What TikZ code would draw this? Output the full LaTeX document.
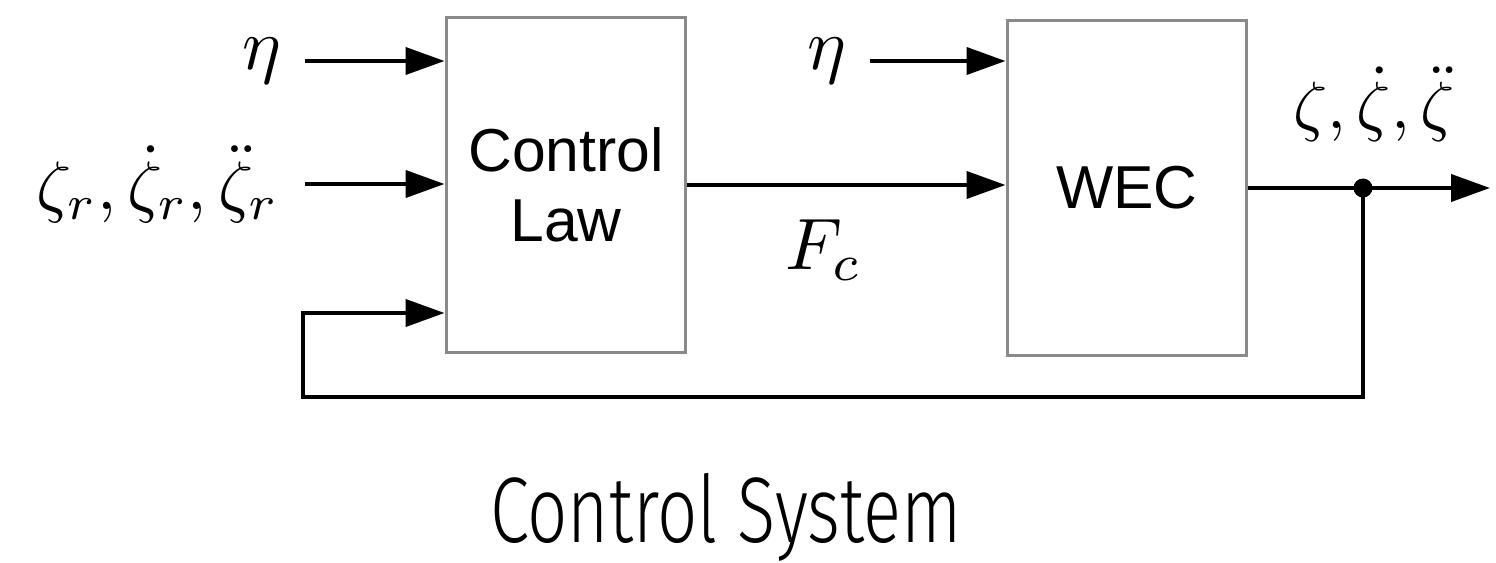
\RequirePackage{fix-cm}
\documentclass[tikz,border=0pt]{standalone}
\usepackage{fontspec}
\setmainfont{Liberation Sans}
\newfontfamily\titlefont{Fira Sans Light}
\usepackage{graphicx}
\usetikzlibrary{positioning,arrows.meta}
\newcommand{\mlab}[2][4.15]{\scalebox{#1}{$#2$}}

\begin{document}
\begin{tikzpicture}[x=0.02cm,y=-0.02cm]
            \definecolor{boxgray}{RGB}{138,138,138}
            \tikzstyle{block} = [rectangle, draw=boxgray, line width=0.06cm,
            minimum width=4.8cm,
            minimum height=6.72cm,
            align=center,
            font=\fontsize{34.5}{40.2}\selectfont]
            \tikzstyle{arrow} = [line width=0.08cm,-{Triangle[length=0.78cm,width=0.54cm]}]
            \tikzstyle{mathlab} = [inner sep=0pt]
            \useasboundingbox (0,0) rectangle (1496,563);

            \node (law)[block] at (566,185) {Control\\Law};
            \node (wec)[block] at (1127,188) {WEC};

            \coordinate (eta1in) at (305,61);
            \coordinate (refin) at (305,184);
            \coordinate (eta2in) at (870,61);
            \coordinate (fbleft) at (303,397);
            \coordinate (fbin) at (303,313);
            \coordinate (out) at (1490,188);
            \node (dot)[circle, fill, inner sep=0pt, minimum size=0.38cm] at (1363,188) {};

            \node (eta1)[mathlab, left=0.46cm of eta1in] {\mlab{\eta}};
            \node (ref)[mathlab, left=0.52cm of refin] {\mlab[3.9]{\zeta_r, \dot{\zeta}_r, \ddot{\zeta}_r}};
            \node (eta2)[mathlab, left=0.46cm of eta2in] {\mlab{\eta}};
            \node (state)[mathlab, above=0.72cm of dot, xshift=0.22cm] {\mlab[3.8]{\zeta, \dot{\zeta}, \ddot{\zeta}}};

            \draw [arrow] (eta1in) -- (eta1in -| law.west);
            \draw [arrow] (refin) -- (refin -| law.west);
            \draw [arrow] (eta2in) -- (eta2in -| wec.west);
            \draw [arrow] (law.east) -- node[mathlab, pos=0.43, below=0.66cm] {\mlab{F_c}} (law.east -| wec.west);
            \draw [arrow] (wec.east) -- (out);
            \draw [arrow] (dot.center) |- (fbleft) -- (fbin) -- (fbin -| law.west);

            \node (title)[inner sep=0pt, anchor=base] at (726,542) {\titlefont\fontsize{53}{60}\selectfont\resizebox{9.44cm}{\height}{Control System}};
        \end{tikzpicture}
\end{document}
